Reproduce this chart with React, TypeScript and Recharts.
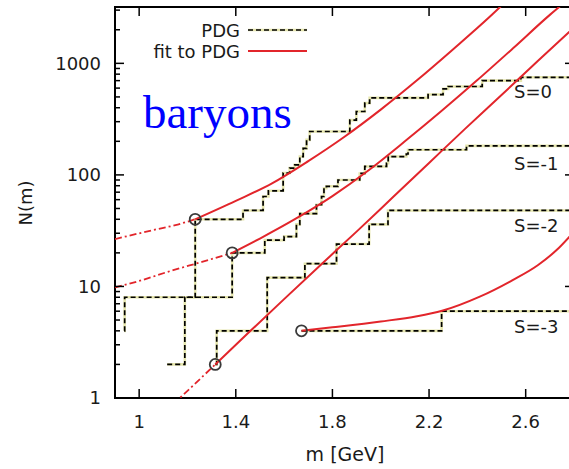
import { LineChart, Line, XAxis, YAxis, ReferenceDot, ReferenceArea } from 'recharts';

// PDG cumulative number of baryon states N(m), by strangeness (step functions)
const S0_M = [0.938, 0.940, 1.232, 1.430, 1.513, 1.535, 1.596, 1.623, 1.644, 1.665, 1.679, 1.693, 1.706, 1.872, 1.899, 1.934, 1.954, 2.196, 2.258, 2.279, 2.42, 2.58, 2.8];
const S0_N = [4, 8, 40, 48, 64, 72, 104, 115, 123, 146, 173, 206, 245, 310, 370, 440, 490, 525, 590, 620, 700, 750, 750];

const S1_M = [1.116, 1.189, 1.385, 1.520, 1.600, 1.651, 1.665, 1.734, 1.755, 1.765, 1.775, 1.823, 1.913, 1.934, 2.024, 2.031, 2.106, 2.113, 2.355, 2.8];
const S1_N = [2, 8, 20, 26, 28, 36, 45, 54, 64, 76, 79, 90, 103, 119, 127, 146, 154, 168, 182, 182];

const S2_M = [1.315, 1.321, 1.530, 1.686, 1.817, 1.952, 2.030, 2.8];
const S2_N = [2, 4, 12, 16, 24, 36, 48, 48];

const S3_M = [1.672, 2.252, 2.8];
const S3_N = [4, 6, 6];

// fits to PDG: dash-dot below threshold, solid above
const F0_LOW_M = [0.9, 1.058, 1.15, 1.232];
const F0_LOW_N = [26.6, 32, 35.5, 40];
const F0_M = [1.232, 1.4, 1.55, 1.7, 1.85, 2.0, 2.15, 2.3, 2.45, 2.53];
const F0_N = [40, 58.5, 84, 133, 220, 385, 705, 1340, 2600, 3800];

const F1_LOW_M = [0.9, 1.0, 1.141, 1.26, 1.385];
const F1_LOW_N = [9.8, 11.2, 14, 16.6, 20];
const F1_M = [1.385, 1.5, 1.65, 1.8, 1.95, 2.1, 2.25, 2.4, 2.55, 2.7, 2.76];
const F1_N = [20, 26.9, 40.7, 64.6, 110, 200, 372, 708, 1380, 2720, 3500];

const F2_LOW_M = [1.14, 1.168, 1.315];
const F2_LOW_N = [0.88, 1.0, 2];
const F2_M = [1.315, 1.45, 1.6, 1.75, 1.9, 2.05, 2.2, 2.35, 2.5, 2.65, 2.8];
const F2_N = [2, 3.8, 7.7, 15.5, 31, 63, 128, 260, 520, 1050, 2100];

const F3_M = [1.672, 1.8, 2.0, 2.15, 2.254, 2.41, 2.546, 2.65, 2.728, 2.8];
const F3_N = [4, 4.3, 4.85, 5.4, 6.05, 8.1, 11.4, 15.5, 21.2, 31];

// threshold points (circles)
const THR_M = [1.232, 1.385, 1.315, 1.672];
const THR_N = [40, 20, 2, 4];

const X_TICKS = [1, 1.4, 1.8, 2.2, 2.6];
const Y_MAJOR = [1, 10, 100, 1000];
const Y_TICKS = [1, 2, 3, 4, 5, 6, 7, 8, 9, 10, 20, 30, 40, 50, 60, 70, 80, 90, 100, 200, 300, 400, 500, 600, 700, 800, 900, 1000, 2000, 3000];

const STRANGENESS = ['S=0', 'S=-1', 'S=-2', 'S=-3'];

const zip = (ms: number[], ns: number[]) => ms.map((m, i) => ({ m, n: ns[i] }));

const PLOT_L = 115;
const PLOT_R = 574;
const PLOT_T = 7;
const PLOT_B = 398;
const FONT = '"DejaVu Sans", Verdana, sans-serif';
const RED = '#e2252b';
const PALE = '#e6e6ae';

const YTick = (props: any) => {
  const { y, payload } = props;
  const major = Y_MAJOR.includes(payload.value);
  const len = major ? 9 : 5;
  return (
    <g>
      <line x1={PLOT_L} x2={PLOT_L + len} y1={y} y2={y} stroke="#000" strokeWidth={1.5} />
      <line x1={PLOT_R} x2={PLOT_R - len} y1={y} y2={y} stroke="#000" strokeWidth={1.5} />
      {major && (
        <text x={101} y={y} dy="0.36em" textAnchor="end" fontFamily={FONT} fontSize={18} fill="#1a1a1a">
          {payload.value}
        </text>
      )}
    </g>
  );
};

const XTick = (props: any) => {
  const { x, payload } = props;
  return (
    <g>
      <line x1={x} x2={x} y1={PLOT_B} y2={PLOT_B - 9} stroke="#000" strokeWidth={1.5} />
      <line x1={x} x2={x} y1={PLOT_T} y2={PLOT_T + 9} stroke="#000" strokeWidth={1.5} />
      <text x={x} y={428} textAnchor="middle" fontFamily={FONT} fontSize={18} fill="#1a1a1a">
        {payload.value}
      </text>
    </g>
  );
};

const steps = [zip(S0_M, S0_N), zip(S1_M, S1_N), zip(S2_M, S2_N), zip(S3_M, S3_N)];
const fitsLow = [zip(F0_LOW_M, F0_LOW_N), zip(F1_LOW_M, F1_LOW_N), zip(F2_LOW_M, F2_LOW_N)];
const fits = [zip(F0_M, F0_N), zip(F1_M, F1_N), zip(F2_M, F2_N), zip(F3_M, F3_N)];
const labelY = [98, 170, 231.5, 333];

export default function App() {
  return (
    <div style={{ position: 'absolute', left: 0, top: 0, width: 569, height: 469, overflow: 'hidden', background: '#fff' }}>
      <LineChart width={600} height={469} margin={{ top: PLOT_T, right: 600 - PLOT_R, bottom: 0, left: 0 }}>
        <XAxis
          dataKey="m"
          type="number"
          domain={[0.9, 2.8]}
          allowDataOverflow
          ticks={X_TICKS}
          interval={0}
          height={469 - PLOT_B}
          axisLine={false}
          tickLine={false}
          tick={XTick}
        />
        <YAxis
          dataKey="n"
          type="number"
          scale="log"
          domain={[1, 3200]}
          allowDataOverflow
          ticks={Y_TICKS}
          interval={0}
          width={PLOT_L}
          axisLine={false}
          tickLine={false}
          tick={YTick}
        />
        <ReferenceArea x1={0.9} x2={2.8} y1={1} y2={3200} fill="none" stroke="#000" strokeWidth={2} />
        {steps.map((d, i) => (
          <Line key={'u' + i} data={d} dataKey="n" type="stepAfter" stroke={PALE} strokeWidth={2.6} dot={false} isAnimationActive={false} />
        ))}
        {steps.map((d, i) => (
          <Line key={'s' + i} data={d} dataKey="n" type="stepAfter" stroke="#000" strokeWidth={1.7} strokeDasharray="5 3" dot={false} isAnimationActive={false} />
        ))}
        {fitsLow.map((d, i) => (
          <Line key={'l' + i} data={d} dataKey="n" type="monotone" stroke={RED} strokeWidth={1.8} strokeDasharray="7 3 2 3" dot={false} isAnimationActive={false} />
        ))}
        {fits.map((d, i) => (
          <Line key={'f' + i} data={d} dataKey="n" type="monotone" stroke={RED} strokeWidth={2} dot={false} isAnimationActive={false} />
        ))}
        {THR_M.map((m, i) => (
          <ReferenceDot key={'c' + i} x={m} y={THR_N[i]} r={5.5} fill="none" stroke="#3a3a3a" strokeWidth={1.8} />
        ))}
      </LineChart>
      <svg width={569} height={469} style={{ position: 'absolute', left: 0, top: 0, pointerEvents: 'none' }}>
        <text x={240} y={36.5} textAnchor="end" fontFamily={FONT} fontSize={18} fill="#1a1a1a">PDG</text>
        <line x1={248} x2={307} y1={30} y2={30} stroke={PALE} strokeWidth={2.6} />
        <line x1={248} x2={307} y1={30} y2={30} stroke="#000" strokeWidth={1.7} strokeDasharray="5 3" />
        <text x={240} y={57.5} textAnchor="end" fontFamily={FONT} fontSize={18} fill="#1a1a1a">fit to PDG</text>
        <line x1={248} x2={307} y1={51} y2={51} stroke={RED} strokeWidth={2} />
        <text x={143} y={128} fontFamily='"Liberation Serif", "Times New Roman", serif' fontSize={47} fill="#0000ff">baryons</text>
        {STRANGENESS.map((s, i) => (
          <text key={s} x={514} y={labelY[i]} fontFamily={FONT} fontSize={18} fill="#1a1a1a">{s}</text>
        ))}
        <text x={345} y={461} textAnchor="middle" fontFamily={FONT} fontSize={19} fill="#1a1a1a">m [GeV]</text>
        <text transform="translate(32,203) rotate(-90)" textAnchor="middle" fontFamily={FONT} fontSize={18} fill="#1a1a1a">N(m)</text>
      </svg>
    </div>
  );
}
